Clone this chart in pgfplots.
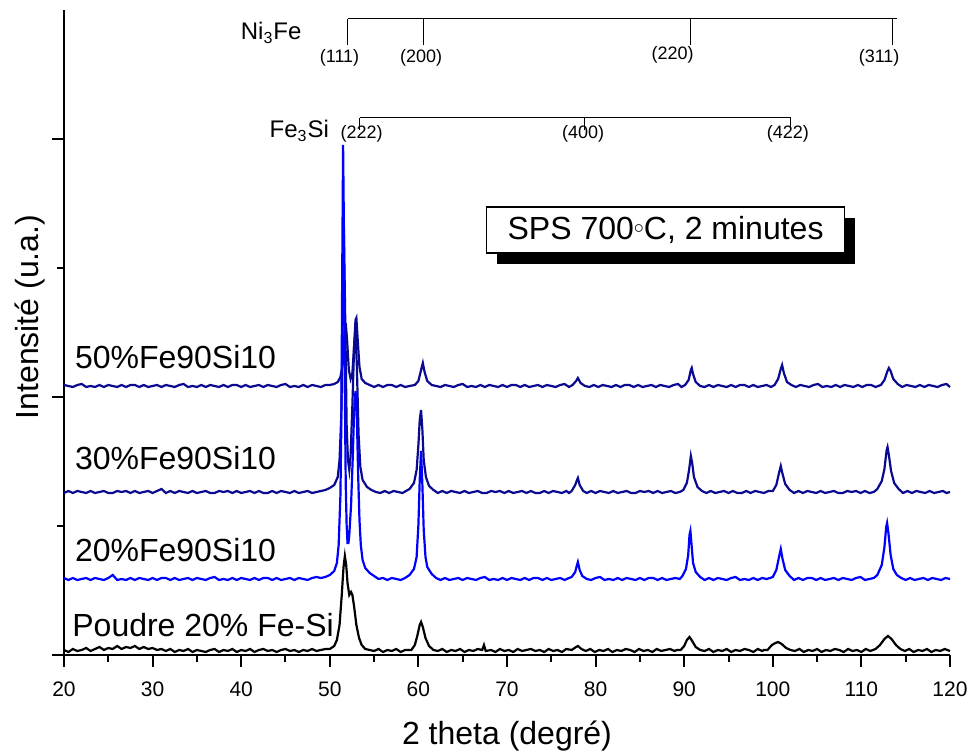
\documentclass[border=0pt]{standalone}
\usepackage{pgfplots}
\pgfplotsset{compat=1.18}
\usepackage{fontspec}
\setmainfont{Liberation Sans}
\definecolor{navy}{RGB}{10,10,145}
\definecolor{bblue}{RGB}{0,0,255}
\begin{document}
\begin{tikzpicture}
\begin{axis}[
 scale only axis, width=443pt, height=322.5pt,
 xmin=20, xmax=120, ymin=0, ymax=645,
 axis x line=bottom, axis y line=left,
 axis line style={-, line width=1pt},
 xtick={20,30,...,120}, minor x tick num=1,
 ytick={0,258,516}, yticklabels={,,}, minor ytick={129,387},
 tick align=outside, major tick length=6pt, minor tick length=3.5pt,
 tick style={black, line width=1pt},
 ticklabel style={font=\fontsize{10.5}{12}\selectfont},
 xticklabel style={yshift=-4pt},
 /pgf/number format/assume math mode=true,
 xlabel={2 theta (degré)}, ylabel={Intensité (u.a.)},
 xlabel style={font=\fontsize{16}{19}\selectfont, at={(axis description cs:0.5,0)}, anchor=center, yshift=-40.5pt},
 ylabel style={font=\fontsize{16}{19}\selectfont, at={(axis description cs:0,0.524)}, anchor=center, yshift=17pt},
 clip=false,
]
% Poudre 20% Fe-Si
\addplot[black, line width=1.1pt] coordinates {
(20.0,5)(20.5,3)(21.0,6)(21.5,4)(22.0,5)(22.5,7)(23.0,4)(23.5,6)(24.0,8)(24.5,5)(25.0,7)(25.5,6)(26.0,9)(26.5,6)(27.0,8)(27.5,7)(28.0,9)(28.5,6)(29.0,8)(29.5,6)(30.0,7)(30.5,5)(31.0,6)(31.5,4)(32.0,6)(32.5,3)(33.0,5)(33.5,4)(34.0,6)(34.5,3)(35.0,5)(35.5,4)(36.0,3)(36.5,5)(37.0,6)(37.5,3)(38.0,5)(38.5,4)(39.0,6)(39.5,3)(40.0,5)(40.5,4)(41.0,6)(41.5,3)(42.0,5)(42.5,6)(43.0,4)(43.5,5)(44.0,3)(44.5,5)(45.0,6)(45.5,4)(46.0,5)(46.5,3)(47.0,5)(47.5,4)(48.0,6)(48.5,4)(49.0,5)(49.5,6)
(50.0,6)(50.5,9)(50.8,15)(51.1,30)(51.35,60)(51.55,88)(51.7,99)(51.85,90)(52.0,72)(52.2,60)(52.4,63)(52.55,60)(52.75,48)(53.0,30)(53.3,17)(53.6,10)(54.0,6)(54.5,5)
(55.0,4)(55.5,6)(56.0,3)(56.5,5)(57.0,4)(57.5,6)(58.0,3)(58.5,5)
(59.2,5)(59.6,10)(59.9,20)(60.15,30)(60.3,33)(60.5,28)(60.8,17)(61.2,9)(61.7,5)
(62.2,4)(62.7,6)(63.2,3)(63.7,5)(64.2,4)(64.7,6)(65.2,3)(65.7,5)(66.2,4)(66.7,6)(67.2,5)(67.4,10)(67.6,4)(68.2,5)(68.7,3)(69.2,6)(69.7,4)(70.2,5)(70.7,3)(71.2,6)(71.7,4)(72.2,5)(72.7,6)(73.2,4)(73.7,5)(74.2,3)(74.7,6)(75.2,4)(75.7,5)(76.2,3)(76.7,6)
(77.3,5)(77.8,8)(78.0,9)(78.4,6)
(78.9,4)(79.4,6)(79.9,3)(80.4,5)(80.9,4)(81.4,6)(81.9,3)(82.4,5)(82.9,4)(83.4,6)(83.9,5)(84.4,3)(84.9,6)(85.4,4)(85.9,5)(86.4,3)(86.9,6)(87.4,4)(87.9,5)(88.4,6)(88.9,4)(89.2,5)
(89.6,5)(90.0,9)(90.3,15)(90.6,18)(90.9,14)(91.3,8)(91.8,5)
(92.3,4)(92.8,6)(93.3,3)(93.8,5)(94.3,4)(94.8,6)(95.3,3)(95.8,5)(96.3,4)(96.8,6)(97.3,5)(97.8,3)(98.3,6)(98.8,4)(99.0,5)
(99.4,5)(99.9,10)(100.3,12)(100.6,13)(101.0,11)(101.5,7)(102.0,5)
(102.5,4)(103.0,6)(103.5,3)(104.0,5)(104.5,4)(105.0,6)(105.5,3)(106.0,5)(106.5,4)(107.0,6)(107.5,5)(108.0,3)(108.5,6)(109.0,4)(109.5,5)(110.0,3)(110.5,6)(111.0,4)
(111.6,6)(112.1,10)(112.6,16)(113.0,19)(113.4,16)(113.9,10)(114.4,6)
(114.9,4)(115.4,6)(115.9,3)(116.4,5)(116.9,4)(117.4,6)(117.9,3)(118.4,5)(118.9,4)(119.4,6)(120.0,4)
};
% 50%Fe90Si10
\addplot[navy, line width=1.1pt] coordinates {
(20.0,270)(20.5,269)(21.0,268)(21.5,270)(22.0,271)(22.5,268)(23.0,269)(23.5,268)(24.0,270)(24.5,268)(25.0,270)(25.5,269)(26.0,268)(26.5,270)(27.0,268)(27.5,270)(28.0,270)(28.5,268)(29.0,270)(29.5,268)(30.0,269)(30.5,270)(31.0,268)(31.5,270)(32.0,269)(32.5,268)(33.0,270)(33.5,271)(34.0,268)(34.5,269)(35.0,268)(35.5,270)(36.0,268)(36.5,270)(37.0,269)(37.5,268)(38.0,270)(38.5,268)(39.0,270)(39.5,270)(40.0,268)(40.5,270)(41.0,268)(41.5,269)(42.0,270)(42.5,268)(43.0,270)(43.5,269)(44.0,268)(44.5,270)(45.0,271)(45.5,268)(46.0,269)(46.5,268)(47.0,270)(47.5,268)(48.0,270)(48.5,269)(49.0,268)(49.5,270)
(50.0,270)(50.5,271)(50.9,273)(51.2,278)(51.45,290)(51.65,320)(51.8,332)(51.95,315)(52.15,285)(52.35,276)(52.55,282)(52.75,310)(52.9,335)(53.0,337)(53.15,315)(53.35,288)(53.6,276)(54.0,272)(54.5,270)
(55.0,268)(55.5,270)(56.0,268)(56.5,270)(57.0,270)(57.5,268)(58.0,270)(58.5,268)(59.0,269)
(59.6,270)(60.0,274)(60.3,285)(60.5,292)(60.7,283)(61.0,274)(61.5,270)
(62.0,269)(62.5,268)(63.0,270)(63.5,269)(64.0,268)(64.5,270)(65.0,271)(65.5,268)(66.0,269)(66.5,268)(67.0,270)(67.5,268)(68.0,270)(68.5,269)(69.0,268)(69.5,270)(70.0,268)(70.5,270)(71.0,270)(71.5,268)(72.0,270)(72.5,268)(73.0,269)(73.5,270)(74.0,268)(74.5,270)(75.0,269)(75.5,268)(76.0,270)(76.5,271)(77.0,268)
(77.4,270)(77.8,274)(78.0,277)(78.3,272)(78.8,269)
(79.3,268)(79.8,270)(80.3,268)(80.8,270)(81.3,269)(81.8,268)(82.3,270)(82.8,268)(83.3,270)(83.8,270)(84.3,268)(84.8,270)(85.3,268)(85.8,269)(86.3,270)(86.8,268)(87.3,270)(87.8,269)(88.3,268)(88.8,270)(89.3,271)(89.7,268)
(90.1,270)(90.5,275)(90.75,285)(90.85,287)(91.0,281)(91.3,273)(91.8,269)
(92.3,268)(92.8,270)(93.3,268)(93.8,270)(94.3,269)(94.8,268)(95.3,270)(95.8,268)(96.3,270)(96.8,270)(97.3,268)(97.8,270)(98.3,268)(98.8,269)(99.3,270)(99.8,268)
(100.2,270)(100.6,276)(100.9,286)(101.05,290)(101.25,282)(101.6,273)(102.1,270)
(102.6,268)(103.1,270)(103.6,269)(104.1,268)(104.6,270)(105.1,271)(105.6,268)(106.1,269)(106.6,268)(107.1,270)(107.6,268)(108.1,270)(108.6,269)(109.1,268)(109.6,270)(110.1,268)(110.6,270)(111.1,270)(111.6,268)
(112.2,270)(112.6,275)(112.9,283)(113.1,287)(113.3,284)(113.6,276)(114.1,271)
(114.6,268)(115.1,270)(115.6,269)(116.1,268)(116.6,270)(117.1,268)(117.6,270)(118.1,269)(118.6,268)(119.1,270)(119.6,271)(120.0,268)
};
% 30%Fe90Si10
\addplot[navy, line width=1.1pt] coordinates {
(20.0,162)(20.5,164)(21.0,162)(21.5,164)(22.0,163)(22.5,162)(23.0,164)(23.5,162)(24.0,163)(24.5,164)(25.0,162)(25.5,162)(26.0,164)(26.5,163)(27.0,164)(27.5,162)(28.0,164)(28.5,162)(29.0,163)(29.5,164)(30.0,162)(30.5,164)(31.0,166)(31.5,162)(32.0,164)(32.5,162)(33.0,164)(33.5,163)(34.0,162)(34.5,164)(35.0,162)(35.5,163)(36.0,164)(36.5,162)(37.0,162)(37.5,164)(38.0,163)(38.5,164)(39.0,162)(39.5,164)(40.0,162)(40.5,163)(41.0,164)(41.5,162)(42.0,164)(42.5,162)(43.0,162)(43.5,164)(44.0,162)(44.5,164)(45.0,163)(45.5,162)(46.0,164)(46.5,162)(47.0,163)(47.5,164)(48.0,162)(48.5,163)(49.0,164)
(49.5,165)(50.0,167)(50.5,170)(50.9,178)(51.1,195)(51.3,240)(51.45,330)(51.6,420)(51.75,330)(51.9,230)(52.05,195)(52.2,185)(52.35,200)(52.55,250)(52.75,310)(52.9,325)(53.05,290)(53.25,220)(53.45,188)(53.7,175)(54.2,168)(54.7,165)
(55.2,163)(55.7,162)(56.2,164)(56.7,162)(57.2,164)(57.7,163)(58.2,162)(58.6,164)
(59.0,166)(59.5,172)(59.8,185)(60.0,210)(60.15,235)(60.3,245)(60.45,225)(60.6,195)(60.85,178)(61.2,169)(61.7,165)
(62.2,162)(62.7,164)(63.2,162)(63.7,164)(64.2,163)(64.7,162)(65.2,164)(65.7,162)(66.2,163)(66.7,164)(67.2,162)(67.7,162)(68.2,164)(68.7,163)(69.2,164)(69.7,162)(70.2,164)(70.7,162)(71.2,163)(71.7,164)(72.2,162)(72.7,164)(73.2,162)(73.7,162)(74.2,164)(74.7,162)(75.2,164)(75.7,163)(76.2,162)(76.7,164)(77.0,162)
(77.3,164)(77.7,170)(77.9,175)(78.0,177)(78.2,170)(78.6,164)
(79.0,162)(79.5,164)(80.0,162)(80.5,164)(81.0,163)(81.5,162)(82.0,164)(82.5,162)(83.0,163)(83.5,164)(84.0,162)(84.5,162)(85.0,164)(85.5,163)(86.0,164)(86.5,162)(87.0,164)(87.5,162)(88.0,163)(88.5,164)(89.0,162)(89.5,163)
(89.9,165)(90.3,172)(90.55,185)(90.75,199)(90.9,192)(91.1,178)(91.5,168)(92.0,164)
(92.5,162)(93.0,164)(93.5,162)(94.0,163)(94.5,164)(95.0,162)(95.5,164)(96.0,162)(96.5,162)(97.0,164)(97.5,162)(98.0,164)(98.5,163)(99.0,162)(99.5,164)
(100.0,164)(100.4,170)(100.7,182)(100.9,189)(101.1,181)(101.4,171)(101.9,165)
(102.4,162)(102.9,164)(103.4,162)(103.9,164)(104.4,163)(104.9,162)(105.4,164)(105.9,162)(106.4,163)(106.9,164)(107.4,162)(107.9,162)(108.4,164)(108.9,163)(109.4,164)(109.9,162)(110.4,164)(110.9,162)(111.4,163)
(111.8,166)(112.3,174)(112.6,186)(112.85,205)(112.95,208)(113.1,200)(113.35,184)(113.7,172)(114.2,166)
(114.7,162)(115.2,164)(115.7,162)(116.2,164)(116.7,163)(117.2,162)(117.7,164)(118.2,162)(118.7,163)(119.2,164)(119.6,162)(120.0,163)
};
% 20%Fe90Si10
\addplot[bblue, line width=1.1pt] coordinates {
(20.0,77)(20.5,75)(21.0,77)(21.5,75)(22.0,76)(22.5,77)(23.0,75)(23.5,77)(24.0,76)(24.5,75)(25.0,77)(25.5,80)(26.0,75)(26.5,76)(27.0,75)(27.5,77)(28.0,75)(28.5,77)(29.0,76)(29.5,75)(30.0,77)(30.5,75)(31.0,77)(31.5,77)(32.0,75)(32.5,77)(33.0,75)(33.5,76)(34.0,77)(34.5,75)(35.0,77)(35.5,76)(36.0,75)(36.5,77)(37.0,78)(37.5,75)(38.0,76)(38.5,75)(39.0,77)(39.5,75)(40.0,77)(40.5,76)(41.0,75)(41.5,77)(42.0,75)(42.5,77)(43.0,77)(43.5,75)(44.0,77)(44.5,75)(45.0,76)(45.5,77)(46.0,75)(46.5,77)(47.0,76)(47.5,75)(48.0,77)(48.5,78)
(49.0,77)(49.5,78)(50.0,80)(50.5,84)(50.8,92)(51.0,110)(51.2,160)(51.3,230)(51.4,380)(51.5,510)(51.6,420)(51.7,260)(51.8,170)(51.9,130)(52.0,112)(52.1,112)(52.2,120)(52.4,150)(52.6,200)(52.75,245)(52.9,264)(53.05,240)(53.2,180)(53.35,135)(53.5,110)(53.7,95)(54.0,87)(54.5,82)(55.0,79)
(55.5,76)(56.0,77)(56.5,75)(57.0,77)(57.5,76)(58.0,75)(58.5,77)
(59.0,80)(59.5,86)(59.8,98)(60.0,130)(60.15,175)(60.3,204)(60.45,170)(60.6,125)(60.8,98)(61.0,88)(61.5,81)
(62.0,77)(62.5,75)(63.0,77)(63.5,75)(64.0,76)(64.5,77)(65.0,75)(65.5,77)(66.0,76)(66.5,75)(67.0,77)(67.5,78)(68.0,75)(68.5,76)(69.0,75)(69.5,77)(70.0,75)(70.5,77)(71.0,76)(71.5,75)(72.0,77)(72.5,75)(73.0,77)(73.5,77)(74.0,75)(74.5,77)(75.0,75)(75.5,76)(76.0,77)(76.5,75)(77.0,77)
(77.3,78)(77.7,83)(77.9,90)(78.0,93)(78.2,85)(78.5,79)
(79.0,76)(79.5,75)(80.0,77)(80.5,78)(81.0,75)(81.5,76)(82.0,75)(82.5,77)(83.0,75)(83.5,77)(84.0,76)(84.5,75)(85.0,77)(85.5,75)(86.0,77)(86.5,77)(87.0,75)(87.5,77)(88.0,75)(88.5,76)(89.0,77)(89.5,76)
(89.8,79)(90.2,86)(90.45,100)(90.6,120)(90.7,124)(90.85,108)(91.0,92)(91.3,83)(91.8,78)
(92.3,75)(92.8,77)(93.3,75)(93.8,77)(94.3,76)(94.8,75)(95.3,77)(95.8,78)(96.3,75)(96.8,76)(97.3,75)(97.8,77)(98.3,75)(98.8,77)(99.3,76)(99.7,77)
(100.0,78)(100.4,85)(100.7,98)(100.9,106)(101.1,96)(101.4,85)(101.9,79)
(102.4,75)(102.9,77)(103.4,75)(103.9,77)(104.4,77)(104.9,75)(105.4,77)(105.9,75)(106.4,76)(106.9,77)(107.4,75)(107.9,77)(108.4,76)(108.9,75)(109.4,77)(109.9,78)(110.4,75)(110.9,76)(111.4,77)
(111.8,80)(112.3,90)(112.6,108)(112.8,128)(112.9,132)(113.05,122)(113.3,100)(113.6,86)(114.0,80)
(114.5,77)(115.0,75)(115.5,77)(116.0,75)(116.5,76)(117.0,77)(117.5,75)(118.0,77)(118.5,76)(119.0,75)(119.5,77)(120.0,76)
};
% series labels
\node[anchor=west, font=\fontsize{16}{19}\selectfont, inner sep=0pt] at (axis cs:21.2,298) {50\%Fe90Si10};
\node[anchor=west, font=\fontsize{16}{19}\selectfont, inner sep=0pt] at (axis cs:21.2,197) {30\%Fe90Si10};
\node[anchor=west, font=\fontsize{16}{19}\selectfont, inner sep=0pt] at (axis cs:21.2,105) {20\%Fe90Si10};
\node[anchor=west, font=\fontsize{16}{19}\selectfont, inner sep=0pt] at (axis cs:20.9,30) {Poudre 20\% Fe-Si};
% box with shadow
\node[fill=black, minimum width=179pt, minimum height=23pt, inner sep=0pt, xshift=5pt, yshift=-5.5pt] at (axis cs:87.9,425) {};
\node[draw=black, line width=0.6pt, fill=white, minimum width=179pt, minimum height=23pt, inner sep=0pt, font=\fontsize{16}{19}\selectfont] at (axis cs:87.9,425) {SPS 700\raisebox{2.8pt}{\fontsize{10}{10}\selectfont$\circ$}C, 2 minutes};
% Ni3Fe reference bars
\draw[black, line width=0.5pt] (axis cs:52.0,636) -- (axis cs:114.0,636);
\draw[black, line width=0.5pt] (axis cs:52.0,636) -- (axis cs:52.0,610);
\draw[black, line width=0.5pt] (axis cs:60.6,636) -- (axis cs:60.6,610);
\draw[black, line width=0.5pt] (axis cs:90.7,636) -- (axis cs:90.7,610);
\draw[black, line width=0.5pt] (axis cs:113.5,636) -- (axis cs:113.5,610);
\node[font=\fontsize{12}{14}\selectfont, anchor=east] at (axis cs:47.6,622) {Ni\textsubscript{3}Fe};
\node[font=\fontsize{9}{10}\selectfont] at (axis cs:51.1,597) {(111)};
\node[font=\fontsize{9}{10}\selectfont] at (axis cs:60.3,597) {(200)};
\node[font=\fontsize{9}{10}\selectfont] at (axis cs:88.7,600) {(220)};
\node[font=\fontsize{9}{10}\selectfont] at (axis cs:112.0,597) {(311)};
% Fe3Si reference bars
\draw[black, line width=0.5pt] (axis cs:53.4,537) -- (axis cs:102.0,537);
\draw[black, line width=0.5pt] (axis cs:53.4,537) -- (axis cs:53.4,525);
\draw[black, line width=0.5pt] (axis cs:78.7,537) -- (axis cs:78.7,525);
\draw[black, line width=0.5pt] (axis cs:102.0,537) -- (axis cs:102.0,525);
\node[font=\fontsize{12}{14}\selectfont, anchor=east] at (axis cs:50.7,524) {Fe\textsubscript{3}Si};
\node[font=\fontsize{9}{10}\selectfont] at (axis cs:53.6,521) {(222)};
\node[font=\fontsize{9}{10}\selectfont] at (axis cs:78.6,521) {(400)};
\node[font=\fontsize{9}{10}\selectfont] at (axis cs:101.7,521) {(422)};
\end{axis}
\pgfresetboundingbox
\path (current axis.south west) ++(-32pt,-49pt) rectangle ++(488pt,376.5pt);
\end{tikzpicture}
\end{document}
